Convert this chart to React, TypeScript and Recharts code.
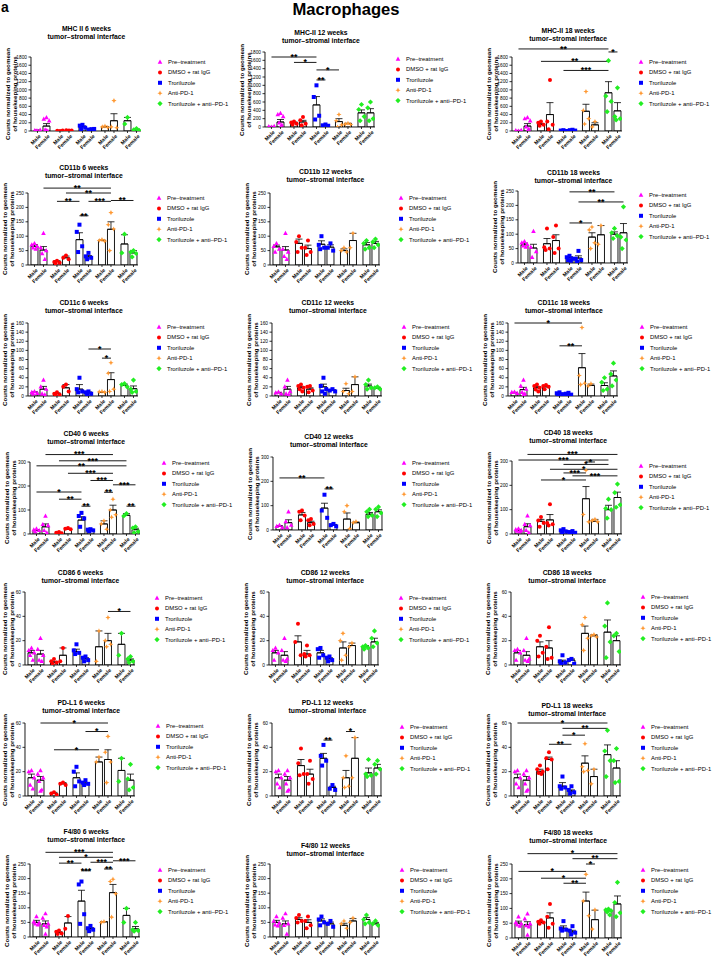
import React from 'react';
import { ComposedChart, Bar, Scatter, XAxis, YAxis, ReferenceLine, ErrorBar } from 'recharts';

const FONT = '"Liberation Sans", Arial, Helvetica, sans-serif';

const groupNames = ['Pre\u2013treatment', 'DMSO + rat IgG', 'Troriluzole', 'Anti-PD-1', 'Troriluzole + anti\u2013PD-1'];
const groupColors = ['#FF00FF', '#FF0000', '#0000FF', '#FF9933', '#22EE22'];
const markerTypes = ['triangle', 'circle', 'square', 'star', 'diamond'];
const sexLabels = ['Male', 'Female'];
const subtitle = 'tumor\u2013stromal interface';
const yLabelLines = ['Counts normalized to geomean', 'of housekeeping proteins'];
const barSlots = [0, 1, 2.5, 3.5, 5, 6, 7.5, 8.5, 10, 11];

// ---------- tick labels ----------
const mhcTicks = [0, 200, 400, 600, 800, 1000, 1200, 1400, 1600, 1800];
const cd11bTicks = [0, 50, 100, 150, 200, 250];
const cd11cTicks = [0, 20, 40, 60, 80, 100, 120, 140, 160];
const cd40Ticks = [0, 100, 200, 300];
const cd86Ticks = [0, 20, 40, 60];
const pdl1Ticks = [0, 20, 40, 60];
const f480Ticks = [0, 50, 100, 150, 200, 250];

// ---------- MHC II ----------
const mhc6Mean = [15, 120, 8, 15, 100, 40, 100, 250, 250, 30];
const mhc6Err = [8, 60, 5, 5, 25, 8, 10, 170, 80, 15];
const mhc6Pts = [[0, 10, 25, 5], [330, 290, 250, 30, 0, 10], [0, 5, 15], [10, 20, 15], [150, 130, 80, 50], [45, 35, 50], [120, 100, 85], [740, 100, 80], [330, 170], [60, 30, 10]];
const mhc6Sig = [];

const mhc12Mean = [10, 120, 100, 120, 530, 50, 130, 80, 340, 340];
const mhc12Err = [5, 60, 20, 40, 200, 10, 70, 10, 70, 100];
const mhc12Pts = [[0, 10, 20], [330, 300, 250, 100, 50, 0], [130, 110, 80, 60], [240, 160, 80, 40], [1000, 720, 270, 180], [60, 40, 30], [300, 150, 50, 0], [90, 70, 60], [540, 420, 250, 150], [600, 460, 200, 150]];
const mhc12Sig = [[0, 4, 1680, '**'], [2, 4, 1550, '*'], [4, 6, 1370, '*'], [4, 5, 1130, '**']];

const mhc18Mean = [10, 120, 160, 400, 10, 20, 480, 150, 930, 490];
const mhc18Err = [5, 60, 25, 290, 5, 5, 170, 50, 270, 200];
const mhc18Pts = [[0, 10, 20], [330, 300, 250, 100, 50, 0], [230, 200, 150, 130], [1240, 230, 150, 40], [20, 10, 0], [30, 20, 10], [960, 500, 300, 170], [230, 100], [1710, 850, 720, 470], [1050, 350, 300, 270]];
const mhc18Sig = [[0, 8, 1996, '**'], [8, 9, 1923, '*'], [2, 8, 1694, '**'], [4, 8, 1473, '***']];

// ---------- CD11b ----------
const cd11b6Mean = [65, 52, 12, 25, 88, 28, 85, 124, 73, 42];
const cd11b6Err = [6, 12, 3, 6, 24, 5, 2, 26, 32, 8];
const cd11b6Pts = [[75, 70, 65, 60, 55], [110, 60, 50, 40, 20], [15, 10, 8, 5], [33, 25, 20], [140, 115, 65, 45], [42, 30, 25, 20], [88, 85, 83], [182, 140, 125, 50], [107, 42], [50, 45, 40, 28]];
const cd11b6Sig = [[1, 7, 267, '**'], [3, 7, 250, '**'], [2, 4, 221, '**'], [5, 7, 221, '***'], [7, 9, 224, '**'], [4, 5, 171, '**']];

const cd11b12Mean = [63, 52, 75, 57, 72, 62, 50, 85, 70, 75];
const cd11b12Err = [6, 12, 15, 12, 12, 8, 6, 25, 8, 7];
const cd11b12Pts = [[75, 65, 55, 45], [110, 55, 45, 30, 20], [100, 80, 60, 45], [85, 60, 45, 35], [100, 70, 60, 55], [75, 60, 50], [60, 50, 45], [110, 60], [85, 75, 60, 55], [90, 80, 70, 60]];
const cd11b12Sig = [];

const cd11b18Mean = [63, 52, 67, 78, 18, 17, 90, 98, 100, 105];
const cd11b18Err = [6, 13, 18, 20, 4, 8, 15, 32, 8, 32];
const cd11b18Pts = [[75, 70, 65, 60, 55], [110, 55, 40, 20], [120, 55, 50, 45], [130, 90, 50, 35], [25, 20, 15, 10, 8], [42, 15, 10, 5], [125, 115, 70, 50], [130, 65], [120, 105, 95, 85], [195, 90, 80, 50]];
const cd11b18Sig = [[4, 8, 247, '**'], [5, 9, 212, '**'], [4, 6, 139, '*']];

// ---------- CD11c ----------
const cd11c6Mean = [8, 15, 5, 18, 15, 7, 8, 36, 23, 16];
const cd11c6Err = [1, 6, 2, 7, 10, 2, 1, 15, 3, 6];
const cd11c6Pts = [[10, 8, 6, 5], [35, 20, 15, 5, 3], [8, 5, 3, 2], [25, 20, 10], [40, 15, 10, 8], [10, 8, 5, 4], [10, 9, 8], [73, 50, 15, 10], [27, 25, 20], [35, 15, 10, 8]];
const cd11c6Sig = [[5, 7, 103, '*'], [6, 7, 83, '*']];

const cd11c12Mean = [7, 15, 18, 15, 20, 12, 12, 25, 22, 17];
const cd11c12Err = [1, 6, 3, 3, 6, 2, 5, 17, 4, 2];
const cd11c12Pts = [[9, 7, 5], [35, 20, 10, 5, 3], [25, 22, 18, 15, 10], [22, 20, 12, 8], [40, 22, 15, 10, 5], [15, 12, 10], [27, 10, 5], [42, 10], [35, 25, 18, 15], [20, 18, 15]];
const cd11c12Sig = [];

const cd11c18Mean = [7, 14, 18, 20, 5, 4, 62, 23, 23, 44];
const cd11c18Err = [1, 5, 3, 3, 1, 1, 31, 3, 6, 11];
const cd11c18Pts = [[9, 8, 6], [35, 22, 15, 8, 5, 3], [25, 22, 18, 14, 10], [24, 22, 20, 15], [8, 6, 4, 3], [7, 5, 3, 2], [150, 45, 28, 25], [27, 22], [40, 30, 15, 12], [72, 48, 35, 22]];
const cd11c18Sig = [[0, 6, 160, '*'], [4, 6, 110, '**']];

// ---------- CD40 ----------
const cd40_6Mean = [15, 30, 5, 20, 58, 18, 42, 100, 78, 18];
const cd40_6Err = [3, 12, 2, 2, 14, 2, 13, 20, 7, 6];
const cd40_6Pts = [[22, 18, 15, 10], [75, 40, 35, 15, 5], [8, 5, 3], [25, 22, 20], [88, 75, 65, 30], [20, 18, 15, 12], [55, 42, 20], [145, 100, 80, 70], [85, 75], [30, 25, 10, 5]];
const cd40_6Sig = [[1, 7, 331, '***'], [2, 8, 305, '***'], [0, 8, 284, '**'], [3, 7, 253, '***'], [5, 7, 223, '***'], [7, 9, 205, '***'], [0, 4, 175, '*'], [6, 7, 174, '**'], [2, 4, 145, '**'], [4, 5, 116, '**'], [8, 9, 116, '**']];

const cd40_12Mean = [15, 30, 62, 30, 90, 20, 45, 30, 65, 75];
const cd40_12Err = [3, 12, 10, 6, 20, 3, 25, 3, 7, 8];
const cd40_12Pts = [[20, 15, 10], [75, 35, 20, 10], [80, 75, 60, 40], [45, 40, 25, 20], [145, 80, 50], [25, 20, 15], [100, 75, 5], [35, 30], [85, 75, 60, 55], [95, 85, 70, 55]];
const cd40_12Sig = [[0, 4, 214, '**'], [4, 5, 169, '**']];

const cd40_18Mean = [15, 30, 52, 58, 13, 8, 145, 52, 100, 150];
const cd40_18Err = [3, 12, 8, 22, 3, 2, 50, 8, 18, 22];
const cd40_18Pts = [[22, 18, 15, 12, 10], [75, 40, 35, 15, 5], [70, 55, 45, 30], [122, 45, 40, 35], [20, 15, 10, 5], [12, 8, 5, 3], [262, 80, 50], [60, 55, 50], [143, 105, 100, 65], [205, 170, 120, 110]];
const cd40_18Sig = [[1, 9, 327, '***'], [0, 8, 304, '***'], [6, 7, 296, '*'], [4, 8, 286, '*'], [3, 9, 266, '*'], [4, 6, 251, '***'], [5, 9, 239, '***'], [2, 6, 222, '*']];

// ---------- CD86 ----------
const cd86_6Mean = [10, 9, 2, 8, 11, 5, 15, 20, 17, 4];
const cd86_6Err = [2, 3, 1, 6, 2, 1, 13, 6, 9, 1];
const cd86_6Pts = [[14, 12, 10, 8, 4], [22, 13, 8, 4, 3], [5, 3, 2, 1], [14, 3], [17, 12, 10, 9], [7, 6, 4, 3], [28, 3], [39, 20, 17, 15], [26, 8], [7, 5, 3, 2]];
const cd86_6Sig = [[7, 9, 44, '*']];

const cd86_12Mean = [10, 8, 19, 9, 10, 5, 14, 16, 15, 19];
const cd86_12Err = [2, 3, 5, 3, 2, 1, 5, 2, 1, 3];
const cd86_12Pts = [[14, 12, 10, 4], [22, 12, 5, 4, 3], [34, 19, 8], [16, 9, 8, 7], [14, 13, 8, 6], [7, 6, 4, 3], [26, 20, 8, 4], [18, 15], [16, 15, 14, 13], [28, 22, 18, 15]];
const cd86_12Sig = [];

const cd86_18Mean = [10, 8, 15, 14, 3, 4, 26, 24, 27, 20];
const cd86_18Err = [2, 3, 4, 6, 1, 1, 6, 1, 10, 4];
const cd86_18Pts = [[13, 12, 10, 4], [22, 12, 5, 4, 3], [24, 20, 10, 7], [31, 15, 6, 5], [8, 3, 2, 1], [5, 4, 1], [39, 33, 22, 12], [25, 24, 23], [51, 32, 19, 6], [26, 24, 11]];
const cd86_18Sig = [];

// ---------- PD-L1 ----------
const pdl1_6Mean = [15, 13, 2, 10, 15, 10, 28, 30, 21, 13];
const pdl1_6Err = [3, 3, 1, 1, 4, 1, 4, 8, 10, 5];
const pdl1_6Pts = [[21, 20, 15, 9, 6], [21, 18, 15, 12, 5, 4], [3, 2, 1], [11, 10, 9], [24, 20, 12, 8], [13, 11, 10, 9], [32, 28], [49, 36, 28, 11], [31, 12], [26, 14, 7, 5]];
const pdl1_6Sig = [[1, 7, 60, '*'], [5, 7, 53, '*'], [2, 6, 38, '*']];

const pdl1_12Mean = [15, 13, 25, 18, 31, 7, 15, 31, 19, 23];
const pdl1_12Err = [3, 3, 5, 4, 4, 1, 6, 17, 4, 3];
const pdl1_12Pts = [[21, 20, 15, 10, 7], [21, 18, 15, 10, 5, 4], [39, 27, 18, 17], [29, 18, 14, 10], [42, 33, 29, 25], [9, 6, 5], [33, 15, 8, 7], [48, 15], [30, 18, 17, 16], [29, 26, 22, 18]];
const pdl1_12Sig = [[4, 5, 46, '**'], [6, 7, 53, '*']];

const pdl1_18Mean = [15, 13, 20, 30, 8, 4, 27, 16, 34, 23];
const pdl1_18Err = [3, 3, 2, 2, 3, 1, 6, 6, 8, 6];
const pdl1_18Pts = [[21, 20, 15, 10, 7], [21, 18, 15, 10, 5, 4], [25, 22, 20, 19, 18], [36, 31, 30, 22], [16, 8, 7, 6], [8, 5, 3, 2], [43, 24, 21, 20], [22, 10], [54, 37, 29, 16], [39, 29, 12, 11]];
const pdl1_18Sig = [[0, 8, 60, '*'], [4, 8, 55.6, '**'], [4, 6, 50, '*'], [3, 5, 42.5, '**']];

// ---------- F4/80 ----------
const f480_6Mean = [50, 45, 15, 48, 123, 28, 52, 152, 74, 28];
const f480_6Err = [7, 10, 3, 22, 37, 4, 1, 28, 24, 8];
const f480_6Pts = [[70, 52, 48, 45, 42], [80, 65, 45, 40, 35, 10], [22, 18, 12, 10], [72, 28], [190, 180, 78, 45], [38, 30, 25, 20], [53, 50], [198, 190, 148, 68], [98, 50], [50, 25, 22, 20]];
const f480_6Sig = [[1, 7, 290, '***'], [2, 7, 273, '*'], [7, 9, 261, '***'], [5, 7, 256, '***'], [2, 4, 253, '**'], [6, 7, 233, '**'], [4, 5, 227, '***']];

const f480_12Mean = [50, 45, 60, 50, 55, 45, 40, 55, 60, 45];
const f480_12Err = [7, 10, 6, 9, 7, 6, 7, 8, 7, 5];
const f480_12Pts = [[70, 55, 48, 42, 38], [80, 65, 45, 40, 10], [75, 65, 55, 50], [70, 55, 40, 30], [70, 60, 50, 40], [55, 45, 35], [55, 45, 30], [65, 50], [75, 60, 50, 45], [55, 45, 40]];
const f480_12Sig = [];

const f480_18Mean = [50, 45, 52, 68, 33, 20, 125, 62, 92, 115];
const f480_18Err = [7, 10, 3, 17, 8, 6, 30, 32, 4, 27];
const f480_18Pts = [[72, 52, 48, 45, 40], [82, 65, 48, 42, 38, 10], [60, 55, 52, 48], [115, 72, 48, 35], [57, 32, 28, 25], [40, 25, 18, 12], [215, 125, 75], [95, 30], [98, 95, 92, 88, 78], [188, 120, 85, 72]];
const f480_18Sig = [[1, 9, 285, '*'], [5, 9, 268, '**'], [6, 7, 250, '*'], [0, 6, 225, '*'], [2, 6, 202, '*'], [4, 6, 185, '**']];

// ---------- panels (data refs + layout) ----------
// layout: [firstBarX, titleY, maxTickY, zeroY, legendTextX, legendFirstY]
const panels = [
  { t: 'MHC II 6 weeks', ticks: mhcTicks, mean: mhc6Mean, err: mhc6Err, pts: mhc6Pts, sig: mhc6Sig, L: [37, 29, 57, 131, 168, 62] },
  { t: 'MHC-II 12 weeks', ticks: mhcTicks, mean: mhc12Mean, err: mhc12Err, pts: mhc12Pts, sig: mhc12Sig, L: [271.5, 33, 52, 127, 406, 59] },
  { t: 'MHC-II 18 weeks', ticks: mhcTicks, mean: mhc18Mean, err: mhc18Err, pts: mhc18Pts, sig: mhc18Sig, L: [518.7, 31, 57, 131, 649, 62] },
  { t: 'CD11b 6 weeks', ticks: cd11bTicks, mean: cd11b6Mean, err: cd11b6Err, pts: cd11b6Pts, sig: cd11b6Sig, L: [34.3, 168, 193, 265, 167, 198] },
  { t: 'CD11b 12 weeks', ticks: cd11bTicks, mean: cd11b12Mean, err: cd11b12Err, pts: cd11b12Pts, sig: cd11b12Sig, L: [276, 172, 193, 265, 409, 198] },
  { t: 'CD11b 18 weeks', ticks: cd11bTicks, mean: cd11b18Mean, err: cd11b18Err, pts: cd11b18Pts, sig: cd11b18Sig, L: [524, 173, 191, 263, 649, 195] },
  { t: 'CD11c 6 weeks', ticks: cd11cTicks, mean: cd11c6Mean, err: cd11c6Err, pts: cd11c6Pts, sig: cd11c6Sig, L: [34.3, 303, 323, 396, 167, 327] },
  { t: 'CD11c 12 weeks', ticks: cd11cTicks, mean: cd11c12Mean, err: cd11c12Err, pts: cd11c12Pts, sig: cd11c12Sig, L: [278.3, 303, 323, 396, 412, 327] },
  { t: 'CD11c 18 weeks', ticks: cd11cTicks, mean: cd11c18Mean, err: cd11c18Err, pts: cd11c18Pts, sig: cd11c18Sig, L: [514.3, 303, 323, 396, 650, 327] },
  { t: 'CD40 6 weeks', ticks: cd40Ticks, mean: cd40_6Mean, err: cd40_6Err, pts: cd40_6Pts, sig: cd40_6Sig, L: [36.7, 434, 462, 534, 172, 463] },
  { t: 'CD40 12 weeks', ticks: cd40Ticks, mean: cd40_12Mean, err: cd40_12Err, pts: cd40_12Pts, sig: cd40_12Sig, L: [279.3, 437, 457, 530, 412, 463] },
  { t: 'CD40 18 weeks', ticks: cd40Ticks, mean: cd40_18Mean, err: cd40_18Err, pts: cd40_18Pts, sig: cd40_18Sig, L: [518.7, 433, 461, 534, 649, 466] },
  { t: 'CD86 6 weeks', ticks: cd86Ticks, mean: cd86_6Mean, err: cd86_6Err, pts: cd86_6Pts, sig: cd86_6Sig, L: [31, 573, 592, 665, 165, 598] },
  { t: 'CD86 12 weeks', ticks: cd86Ticks, mean: cd86_12Mean, err: cd86_12Err, pts: cd86_12Pts, sig: cd86_12Sig, L: [275.7, 573, 592, 665, 409, 598] },
  { t: 'CD86 18 weeks', ticks: cd86Ticks, mean: cd86_18Mean, err: cd86_18Err, pts: cd86_18Pts, sig: cd86_18Sig, L: [517.7, 573, 592, 665, 651, 597] },
  { t: 'PD-L1 6 weeks', ticks: pdl1Ticks, mean: pdl1_6Mean, err: pdl1_6Err, pts: pdl1_6Pts, sig: pdl1_6Sig, L: [31.7, 703, 723, 796, 166, 726] },
  { t: 'PD-L1 12 weeks', ticks: pdl1Ticks, mean: pdl1_12Mean, err: pdl1_12Err, pts: pdl1_12Pts, sig: pdl1_12Sig, L: [278, 703, 723, 796, 410, 727] },
  { t: 'PD-L1 18 weeks', ticks: pdl1Ticks, mean: pdl1_18Mean, err: pdl1_18Err, pts: pdl1_18Pts, sig: pdl1_18Sig, L: [517.7, 706, 723, 796, 651, 727] },
  { t: 'F4/80 6 weeks', ticks: f480Ticks, mean: f480_6Mean, err: f480_6Err, pts: f480_6Pts, sig: f480_6Sig, L: [36.7, 832, 864, 937, 168, 870] },
  { t: 'F4/80 12 weeks', ticks: f480Ticks, mean: f480_12Mean, err: f480_12Err, pts: f480_12Pts, sig: f480_12Sig, L: [276, 846, 864, 937, 410, 870] },
  { t: 'F4/80 18 weeks', ticks: f480Ticks, mean: f480_18Mean, err: f480_18Err, pts: f480_18Pts, sig: f480_18Sig, L: [518.7, 833, 864, 938, 651, 870] },
];

const X_MIN = -0.72;
const X_MAX = 11.5;
const UNIT = 9;
const EXTRA = 12;
const MT = 12;
const XH = 26;
const YW = 20;
const JIT = [0, -0.3, 0.3, -0.15, 0.15, 0];

function Marker({ cx, cy, type, color }: any) {
  if (cx == null || cy == null) return null;
  const r = 2.0;
  if (type === 'triangle') {
    return <polygon points={`${cx},${cy - r * 1.25} ${cx - r * 1.15},${cy + r * 0.85} ${cx + r * 1.15},${cy + r * 0.85}`} fill={color} />;
  }
  if (type === 'circle') return <circle cx={cx} cy={cy} r={r} fill={color} />;
  if (type === 'square') return <rect x={cx - r} y={cy - r} width={2 * r} height={2 * r} fill={color} />;
  if (type === 'star') {
    const a = r * 1.3, b = r * 0.4;
    return <polygon points={`${cx},${cy - a} ${cx + b},${cy - b} ${cx + a},${cy} ${cx + b},${cy + b} ${cx},${cy + a} ${cx - b},${cy + b} ${cx - a},${cy} ${cx - b},${cy - b}`} fill={color} />;
  }
  const d = r * 1.3;
  return <polygon points={`${cx},${cy - d} ${cx + d},${cy} ${cx},${cy + d} ${cx - d},${cy}`} fill={color} />;
}

function XTick({ x, y, payload }: any) {
  const idx = barSlots.indexOf(payload.value);
  const label = sexLabels[idx % 2];
  const ax = x + 2.2;
  const ay = y + 2.5;
  return (
    <text x={ax} y={ay} transform={`rotate(-45 ${ax} ${ay})`} textAnchor="end" dy="0.35em"
      fontSize={5.2} fontWeight="bold" fontFamily={FONT} fill="#000">{label}</text>
  );
}

function Panel({ p }: any) {
  const [firstBar, titleY, maxY, zeroY, legX, legY] = p.L;
  const axisX = firstBar + X_MIN * UNIT;
  const plotW = (X_MAX - X_MIN) * UNIT;
  const maxTick = p.ticks[p.ticks.length - 1];
  const tickPx = zeroY - maxY;
  const plotH = tickPx + EXTRA;
  const yTop = (maxTick * plotH) / tickPx;
  const chartW = YW + plotW + 4;
  const chartH = MT + plotH + XH;
  const barData = p.mean.map((m: number, i: number) => ({ x: barSlots[i], mean: m, err: [0, p.err[i]] }));
  const scatterSets = groupNames.map((_, g) => {
    const out: any[] = [];
    [0, 1].forEach((s) => {
      const i = g * 2 + s;
      const vals = p.pts[i];
      vals.forEach((v: number, k: number) => {
        out.push({ x: barSlots[i] + (vals.length > 1 ? JIT[k % JIT.length] : 0), y: v });
      });
    });
    return out;
  });
  const yLabelX = Math.max(axisX - 20, 8);
  return (
    <>
      <div style={{ position: 'absolute', left: firstBar + 49.5, top: titleY - 4.5, transform: 'translateX(-50%)', fontFamily: FONT, fontWeight: 'bold', fontSize: 6.8, lineHeight: '8.6px', textAlign: 'center', whiteSpace: 'nowrap', color: '#000' }}>
        <div>{p.t}</div>
        <div>{subtitle}</div>
      </div>
      <div style={{ position: 'absolute', left: yLabelX, top: (maxY + zeroY) / 2, width: 0, height: 0 }}>
        <div style={{ position: 'absolute', left: 0, top: 0, transform: 'translate(-50%, -50%) rotate(-90deg)', fontFamily: FONT, fontWeight: 'bold', fontSize: 6.2, lineHeight: '7px', textAlign: 'center', whiteSpace: 'nowrap', color: '#000' }}>
          <div>{yLabelLines[0]}</div>
          <div>{yLabelLines[1]}</div>
        </div>
      </div>
      <div style={{ position: 'absolute', left: axisX - YW, top: maxY - EXTRA - MT }}>
        <ComposedChart width={chartW} height={chartH} data={barData} margin={{ top: MT, right: 4, bottom: 0, left: 0 }}>
          <XAxis type="number" dataKey="x" domain={[X_MIN, X_MAX]} allowDataOverflow ticks={barSlots} interval={0}
            height={XH} tickSize={2} tickMargin={0} tick={<XTick />} axisLine={{ stroke: '#000', strokeWidth: 0.9 }} tickLine={{ stroke: '#000', strokeWidth: 0.8 }} />
          <XAxis xAxisId="pts" type="number" dataKey="x" domain={[X_MIN, X_MAX]} allowDataOverflow hide />
          <YAxis type="number" domain={[0, yTop]} allowDataOverflow ticks={p.ticks} interval={0} width={YW} tickSize={2.5} tickMargin={1.5}
            axisLine={false} tickLine={{ stroke: '#000', strokeWidth: 0.8 }} tick={{ fontSize: 4.8, fill: '#000', fontFamily: FONT }} />
          <ReferenceLine segment={[{ x: X_MIN, y: 0 }, { x: X_MIN, y: maxTick }]} stroke="#000" strokeWidth={0.9} ifOverflow="visible" />
          <Bar dataKey="mean" barSize={7} fill="#fff" stroke="#000" strokeWidth={0.9} isAnimationActive={false}>
            <ErrorBar dataKey="err" width={3.5} stroke="#000" strokeWidth={0.8} direction="y" isAnimationActive={false} />
          </Bar>
          {scatterSets.map((d, g) => (
            <Scatter key={g} xAxisId="pts" data={d} dataKey="y" isAnimationActive={false}
              shape={(sp: any) => <Marker cx={sp.cx} cy={sp.cy} type={markerTypes[g]} color={groupColors[g]} />} />
          ))}
          {p.sig.map((s: any, k: number) => (
            <ReferenceLine key={'s' + k} segment={[{ x: barSlots[s[0]], y: s[2] }, { x: barSlots[s[1]], y: s[2] }]}
              stroke="#000" strokeWidth={0.9} ifOverflow="visible"
              label={{ value: s[3], position: 'top', offset: -2.8, fontSize: 8.8, fontWeight: 'bold', fill: '#000', fontFamily: FONT }} />
          ))}
        </ComposedChart>
      </div>
      <svg style={{ position: 'absolute', left: legX - 12, top: legY - 6 }} width={90} height={56}>
        {groupNames.map((name, g) => (
          <g key={g}>
            <Marker cx={4} cy={6 + g * 10.4} type={markerTypes[g]} color={groupColors[g]} />
            <text x={12} y={6 + g * 10.4} dy="0.35em" fontSize={5.9} fontFamily={FONT} fill="#000">{name}</text>
          </g>
        ))}
      </svg>
    </>
  );
}

export default function App() {
  return (
    <div style={{ position: 'absolute', left: 0, top: 0, width: 714, height: 959, background: '#fff', overflow: 'hidden', fontFamily: FONT }}>
      <div style={{ position: 'absolute', left: 1, top: 0, fontSize: 14, lineHeight: '14px', fontWeight: 'bold', fontFamily: FONT }}>a</div>
      <div style={{ position: 'absolute', left: 346, top: 0, transform: 'translateX(-50%)', fontSize: 16.6, fontWeight: 'bold', fontFamily: FONT, lineHeight: '20px', whiteSpace: 'nowrap' }}>Macrophages</div>
      {panels.map((p, i) => (
        <Panel key={i} p={p} />
      ))}
    </div>
  );
}
